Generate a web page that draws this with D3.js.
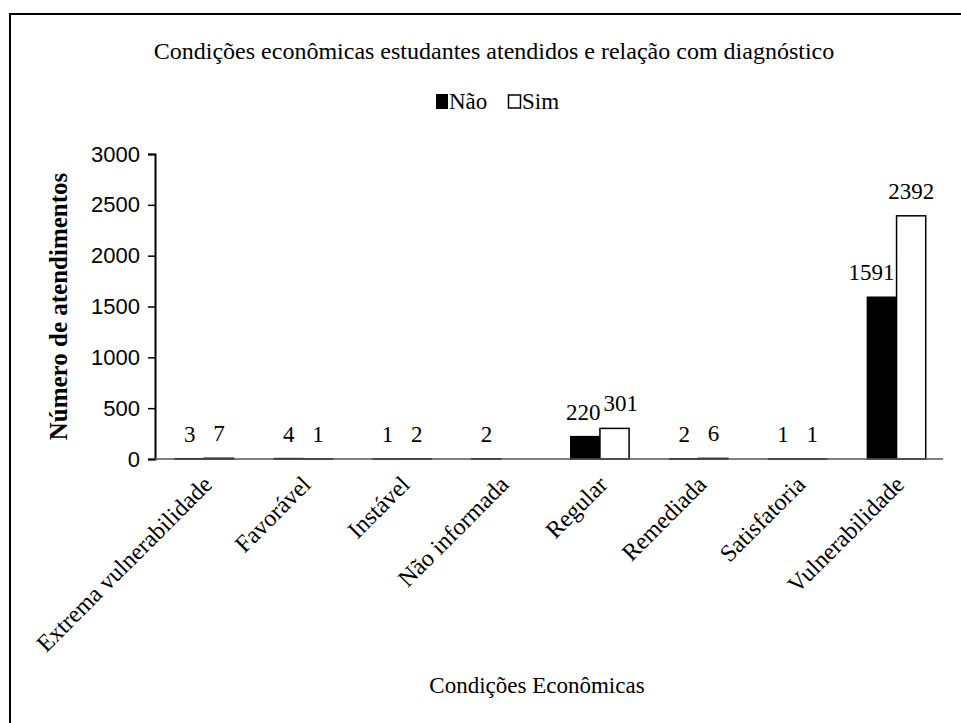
<!DOCTYPE html>
<html>
<head>
<meta charset="utf-8">
<script src="https://cdn.jsdelivr.net/npm/d3@7"></script>
<style>
  body { margin: 0; background: #fff; }
</style>
</head>
<body>
<script>
// Data
const categories = ['Extrema vulnerabilidade', 'Favorável', 'Instável', 'Não informada',
  'Regular', 'Remediada', 'Satisfatoria', 'Vulnerabilidade'];
const series = ['Não', 'Sim'];
const naoValues = [3, 4, 1, 2, 220, 2, 1, 1591];
const simValues = [7, 1, 2, null, 301, 6, 1, 2392];
const yTicks = [0, 500, 1000, 1500, 2000, 2500, 3000];

const title = 'Condições econômicas estudantes atendidos e relação com diagnóstico';
const xTitle = 'Condições Econômicas';
const yTitle = 'Número de atendimentos';

const width = 961;
const height = 723;
const margin = {top: 154, right: 15, bottom: 264, left: 155};
const serif = '"Liberation Serif", "Times New Roman", serif';

const svg = d3.select('body')
  .append('svg')
  .attr('width', width)
  .attr('height', height)
  .attr('font-family', serif);

// outer chart frame (runs off the right and bottom edges)
svg.append('rect')
  .attr('x', 10)
  .attr('y', 14)
  .attr('width', 1000)
  .attr('height', 800)
  .attr('fill', 'none')
  .attr('stroke', '#000')
  .attr('stroke-width', 2);

const rows = categories.map((c, i) => ({
  cat: c,
  vals: [{key: 'Não', v: naoValues[i]}, {key: 'Sim', v: simValues[i]}]
}));

const x0 = d3.scaleBand()
  .domain(categories)
  .range([margin.left, width - margin.right])
  .paddingInner(0.41)
  .paddingOuter(0.205);

const x1 = d3.scaleBand()
  .domain(series)
  .range([0, x0.bandwidth()]);

const y = d3.scaleLinear()
  .domain([0, 3000])
  .range([height - margin.bottom, margin.top]);

// title + legend
svg.append('text')
  .attr('x', 494)
  .attr('y', 59)
  .attr('text-anchor', 'middle')
  .style('font-family', serif)
  .style('font-size', '24px')
  .text(title);

const legend = svg.append('g').attr('transform', 'translate(436, 109)');
legend.append('rect').attr('x', 0).attr('y', -15).attr('width', 12).attr('height', 15)
  .attr('fill', '#000');
legend.append('text').attr('x', 13).attr('y', 0)
  .style('font-family', serif).style('font-size', '23px').text(series[0]);
legend.append('rect').attr('x', 72.5).attr('y', -14).attr('width', 12).attr('height', 13)
  .attr('fill', '#fff').attr('stroke', '#000').attr('stroke-width', 1.5);
legend.append('text').attr('x', 86).attr('y', 0)
  .style('font-family', serif).style('font-size', '23px').text(series[1]);

// y axis
const yAxis = svg.append('g')
  .attr('transform', `translate(${margin.left},0)`)
  .call(d3.axisLeft(y).tickValues(yTicks).tickFormat(d3.format('d')).tickSize(7).tickPadding(8));
yAxis.select('.domain').attr('stroke', '#000').attr('stroke-width', 2);
yAxis.selectAll('.tick line').attr('stroke', '#000').attr('stroke-width', 1.5);
yAxis.selectAll('.tick text')
  .style('font-family', '"Liberation Sans", Arial, sans-serif')
  .style('font-size', '22px');

// bars
const groups = svg.append('g')
  .selectAll('g')
  .data(rows)
  .enter()
  .append('g')
  .attr('transform', d => `translate(${x0(d.cat)},0)`);

groups.selectAll('rect')
  .data(d => d.vals.filter(v => v.v != null))
  .enter()
  .append('rect')
  .attr('x', d => x1(d.key))
  .attr('y', d => y(d.v))
  .attr('width', x1.bandwidth())
  .attr('height', d => y(0) - y(d.v))
  .attr('fill', d => d.key === 'Não' ? '#000' : '#fff')
  .attr('stroke', '#000')
  .attr('stroke-width', 1.5);

// x axis baseline
svg.append('line')
  .attr('x1', margin.left)
  .attr('x2', width - margin.right - 3)
  .attr('y1', y(0))
  .attr('y2', y(0))
  .attr('stroke', '#555')
  .attr('stroke-width', 1.5);

// value labels, nudged apart like the spreadsheet does when they collide
groups.each(function(d) {
  const g = d3.select(this);
  const labels = d.vals.map(v => {
    if (v.v == null) return null;
    const t = g.append('text')
      .attr('x', x1(v.key) + x1.bandwidth() / 2)
      .attr('y', y(v.v) - 17)
      .attr('text-anchor', 'middle')
      .style('font-family', serif)
      .style('font-size', '23px')
      .text(v.v);
    return {t, v, w: t.node().getComputedTextLength()};
  });
  const [a, b] = labels;
  if (!a || !b) return;
  const cx = k => x1(k) + x1.bandwidth() / 2;
  if (y(b.v.v) < y(a.v.v) - 17 && a.w > x1.bandwidth()) {
    // Não label would run into the taller Sim bar
    a.t.attr('text-anchor', 'end').attr('x', x1('Sim') - 2);
  } else if (cx('Não') + a.w / 2 > cx('Sim') - b.w / 2 - 2) {
    a.t.attr('x', cx('Não') - 2);
    b.t.attr('text-anchor', 'start').attr('x', cx('Não') - 2 + a.w / 2 + 3);
  }
});

// x tick labels
svg.append('g')
  .selectAll('text')
  .data(categories)
  .enter()
  .append('text')
  .attr('transform', d => `translate(${x0(d) + x0.bandwidth() / 2 + 9},${y(0) + 27}) rotate(-45)`)
  .attr('text-anchor', 'end')
  .style('font-family', serif)
  .style('font-size', '24px')
  .text(d => d);

// axis titles
svg.append('text')
  .attr('x', 537)
  .attr('y', 693)
  .attr('text-anchor', 'middle')
  .style('font-family', serif)
  .style('font-size', '23px')
  .text(xTitle);

svg.append('text')
  .attr('transform', `translate(67,${(margin.top + y(0)) / 2}) rotate(-90)`)
  .attr('text-anchor', 'middle')
  .style('font-family', serif)
  .style('font-size', '25px')
  .style('font-weight', 'bold')
  .text(yTitle);
</script>
</body>
</html>
